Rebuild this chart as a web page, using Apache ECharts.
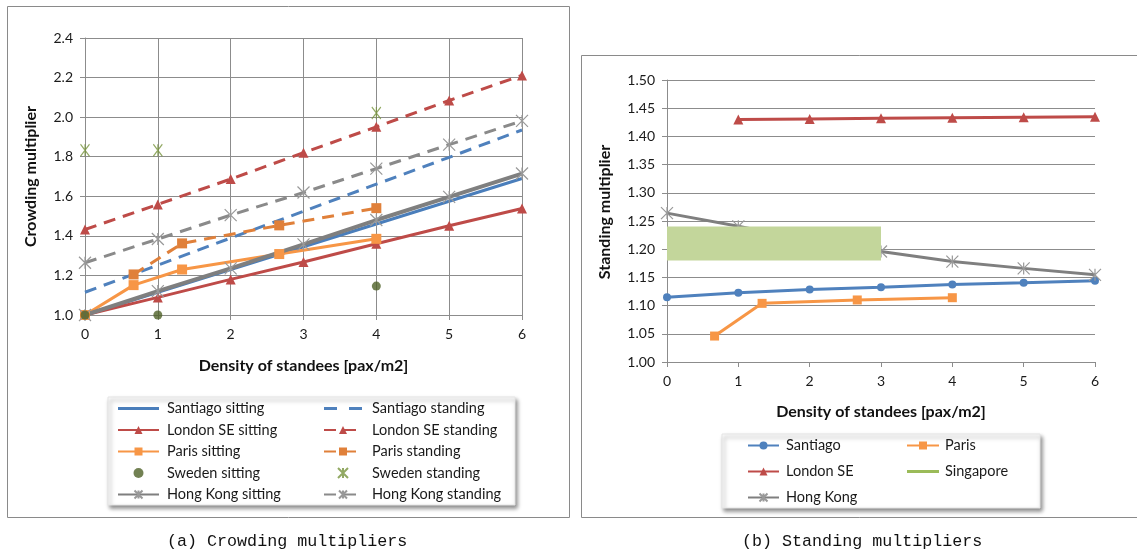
<!DOCTYPE html>
<html><head><meta charset="utf-8">
<script src="https://cdn.jsdelivr.net/npm/echarts@6/dist/echarts.min.js"></script>
<style>html,body{margin:0;padding:0;background:#fff}#c{width:1137px;height:553px}</style>
</head><body><div id="c"></div><script>
// ---- (a) Crowding multipliers ----
const densities = [0, 1, 2, 3, 4, 5, 6];
const parisDensities = [0, 0.667, 1.333, 2.667, 4];
const parisStandDensities = [0.667, 1.333, 2.667, 4];
const swedenDensities = [0, 1, 4];
const santiagoSitting = [1.00, 1.115, 1.23, 1.345, 1.46, 1.575, 1.69];
const santiagoStanding = [1.115, 1.252, 1.389, 1.524, 1.661, 1.797, 1.935];
const londonSitting = [1.00, 1.089, 1.18, 1.268, 1.36, 1.451, 1.538];
const londonStanding = [1.432, 1.559, 1.687, 1.82, 1.951, 2.084, 2.211];
const parisSitting = [1.00, 1.151, 1.23, 1.308, 1.385];
const parisStanding = [1.205, 1.362, 1.453, 1.54];
const swedenSitting = [1.00, 1.00, 1.146];
const swedenStanding = [1.833, 1.833, 2.021];
const hkSitting = [1.00, 1.121, 1.236, 1.357, 1.48, 1.597, 1.715];
const hkStanding = [1.264, 1.384, 1.505, 1.619, 1.74, 1.861, 1.981];

// ---- (b) Standing multipliers ----
const santiagoMult = [1.115, 1.1226, 1.1285, 1.1327, 1.1374, 1.1403, 1.1439];
const londonMultDensities = [1, 2, 3, 4, 5, 6];
const londonMult = [1.430, 1.431, 1.432, 1.433, 1.434, 1.435];
const parisMultDensities = [0.667, 1.333, 2.667, 4];
const parisMult = [1.046, 1.104, 1.11, 1.114];
const hkMult = [1.264, 1.2406, 1.215, 1.196, 1.178, 1.166, 1.1545];
const singaporeDensities = [0, 3];
const singaporeMult = [1.21, 1.21];

const leftTicks = ['1.0','1.2','1.4','1.6','1.8','2.0','2.2','2.4'];

const pair = (xs, ys) => xs.map((x, i) => [x, ys[i]]);
const FONT = 'Lato';
const GRID = '#8c8c8c';
const STAR = 'path://M0,0L10,10M10,0L0,10M5,0L5,10';
const C = {
  blue: '#4a7ebb', blue2: '#4f81bd', red: '#be4b48', orange: '#f79646', orange2: '#e0803a',
  dgreen: '#4f6228', lgreen: '#77933c', gray: '#7f7f7f', gray2: '#8a8a8a', sing: '#c3d69b', singL: '#9bbb59'
};
const DASH = [12, 8];
const SOLID_ICON = 'path://M0,0H41V3H0Z';
const DASH_ICON = 'path://M0,0H13V3H0Z M25,0H38V3H25Z';
const SING_ICON = 'path://M0,0H32V3H0Z';

function lineS(name, data, color, opts) {
  opts = opts || {};
  return Object.assign({
    name, type: 'line', data, xAxisIndex: opts.ai || 0, yAxisIndex: opts.ai || 0,
    color,
    lineStyle: { color, width: opts.w || 3, type: opts.dash ? DASH : 'solid' },
    symbol: opts.symbol || 'none', symbolSize: opts.size || 9, showSymbol: !!opts.symbol,
    itemStyle: { color, borderColor: color, borderWidth: opts.bw || 0 },
    animation: false, silent: true, z: opts.z || 2
  }, opts.extra || {});
}

const chart = echarts.init(document.getElementById('c'), null, { renderer: 'canvas' });

const axisLab = { fontFamily: FONT, fontSize: 14, color: '#1a1a1a' };
const nameSt = { fontFamily: FONT, fontSize: 16, fontWeight: 'bold', color: '#111' };
const legText = (pad) => ({ fontFamily: FONT, fontSize: 14.5, lineHeight: 14, color: '#1a1a1a', padding: [0, 0, 0, pad] });

const option = {
  animation: false,
  grid: [
    { left: 85, top: 38, width: 437, height: 277 },
    { left: 667, top: 80, width: 428, height: 282 }
  ],
  xAxis: [
    { gridIndex: 0, type: 'value', min: 0, max: 6, interval: 1,
      axisLine: { lineStyle: { color: GRID } }, axisTick: { show: true, length: 5, lineStyle: { color: GRID } },
      splitLine: { show: true, lineStyle: { color: GRID } },
      axisLabel: Object.assign({ margin: 12 }, axisLab),
      name: 'Density of standees [pax/m2]', nameLocation: 'middle', nameGap: 43, nameTextStyle: nameSt },
    { gridIndex: 1, type: 'value', min: 0, max: 6, interval: 1,
      axisLine: { lineStyle: { color: GRID } }, axisTick: { show: true, length: 5, lineStyle: { color: GRID } },
      splitLine: { show: false },
      axisLabel: Object.assign({ margin: 12 }, axisLab),
      name: 'Density of standees [pax/m2]', nameLocation: 'middle', nameGap: 42, nameTextStyle: nameSt }
  ],
  yAxis: [
    { gridIndex: 0, type: 'value', min: 1.0, max: 2.4, interval: 0.2,
      axisLine: { show: true, lineStyle: { color: GRID } }, axisTick: { show: true, length: 5, lineStyle: { color: GRID } },
      splitLine: { show: true, lineStyle: { color: GRID } },
      axisLabel: Object.assign({ margin: 12, formatter: v => { const i = Math.round((v - 1.0) / 0.2); return leftTicks[i] || v.toFixed(1); } }, axisLab),
      name: 'Crowding multiplier', nameLocation: 'middle', nameGap: 46, nameTextStyle: nameSt },
    { gridIndex: 1, type: 'value', min: 1.0, max: 1.5, interval: 0.05,
      axisLine: { show: true, lineStyle: { color: GRID } }, axisTick: { show: true, length: 5, lineStyle: { color: GRID } },
      splitLine: { show: true, lineStyle: { color: GRID } },
      axisLabel: Object.assign({ margin: 12, formatter: v => v.toFixed(2) }, axisLab),
      name: 'Standing multiplier', nameLocation: 'middle', nameGap: 54, nameTextStyle: Object.assign({}, nameSt, { padding: [0, 0, 0, 18] }) }
  ],
  legend: [
    { left: 117, top: 401, padding: 0, orient: 'vertical', itemWidth: 41, itemHeight: 10, itemGap: 6.5,
      textStyle: legText(3), selectedMode: false,
      data: [{ name: 'Santiago sitting', icon: SOLID_ICON }, 'London SE sitting', 'Paris sitting', 'Sweden sitting', 'Hong Kong sitting'] },
    { left: 323, top: 401, padding: 0, orient: 'vertical', itemWidth: 38, itemHeight: 10, itemGap: 6.5,
      textStyle: legText(5), selectedMode: false,
      data: [{ name: 'Santiago standing', icon: DASH_ICON }, 'London SE standing', 'Paris standing', 'Sweden standing', 'Hong Kong standing'] },
    { left: 747, top: 438, padding: 0, orient: 'vertical', itemWidth: 31, itemHeight: 10, itemGap: 11,
      textStyle: legText(2), selectedMode: false,
      data: ['Santiago', 'London SE', 'Hong Kong'] },
    { left: 906, top: 438, padding: 0, orient: 'vertical', itemWidth: 32, itemHeight: 10, itemGap: 11,
      textStyle: legText(1), selectedMode: false,
      data: ['Paris', { name: 'Singapore', icon: SING_ICON, itemStyle: { color: C.singL } }] }
  ],
  graphic: [
    { type: 'rect', z: 0, silent: true, shape: { x: 7.5, y: 6.5, width: 562, height: 511 }, style: { fill: 'none', stroke: '#8a8a8a', lineWidth: 1 } },
    { type: 'rect', z: 0, silent: true, shape: { x: 581.5, y: 55.5, width: 560, height: 462 }, style: { fill: 'none', stroke: '#8a8a8a', lineWidth: 1 } },
    { type: 'rect', z: 0, silent: true, shape: { x: 108, y: 397, width: 407, height: 108 },
      style: { fill: '#fff', stroke: '#e4e4e4', lineWidth: 1, shadowBlur: 4, shadowOffsetX: 2, shadowOffsetY: 3, shadowColor: 'rgba(0,0,0,0.45)' } },
    { type: 'rect', z: 0, silent: true, shape: { x: 722, y: 434, width: 318, height: 74 },
      style: { fill: '#fff', stroke: '#e4e4e4', lineWidth: 1, shadowBlur: 4, shadowOffsetX: 2, shadowOffsetY: 3, shadowColor: 'rgba(0,0,0,0.45)' } },
    { type: 'text', silent: true, left: 167, top: 533, style: { text: '(a) Crowding multipliers', font: '16.7px "Liberation Mono"', fill: '#111' } },
    { type: 'text', silent: true, left: 742, top: 533, style: { text: '(b) Standing multipliers', font: '16.7px "Liberation Mono"', fill: '#111' } }
  ],
  series: [
    lineS('Santiago sitting', pair(densities, santiagoSitting), C.blue),
    lineS('Santiago standing', pair(densities, santiagoStanding), C.blue2, { dash: true }),
    lineS('London SE sitting', pair(densities, londonSitting), C.red, { symbol: 'triangle', size: 10 }),
    lineS('London SE standing', pair(densities, londonStanding), C.red, { symbol: 'triangle', size: 10, dash: true }),
    lineS('Paris sitting', pair(parisDensities, parisSitting), C.orange, { symbol: 'rect', size: 10 }),
    lineS('Paris standing', pair(parisStandDensities, parisStanding), C.orange2, { symbol: 'rect', size: 10, dash: true }),
    { name: 'Sweden sitting', type: 'scatter', xAxisIndex: 0, yAxisIndex: 0, data: pair(swedenDensities, swedenSitting),
      symbol: 'circle', symbolSize: 9, color: C.dgreen, itemStyle: { color: C.dgreen }, silent: true, z: 3 },
    { name: 'Sweden standing', type: 'scatter', xAxisIndex: 0, yAxisIndex: 0, data: pair(swedenDensities, swedenStanding),
      symbol: STAR, symbolSize: [9, 12], color: C.lgreen, itemStyle: { color: 'rgba(0,0,0,0)', borderColor: C.lgreen, borderWidth: 1.3 }, silent: true, z: 3 },
    lineS('Hong Kong sitting', pair(densities, hkSitting), C.gray, { symbol: STAR, size: 12, w: 4, extra: { itemStyle: { color: 'rgba(0,0,0,0)', borderColor: '#999', borderWidth: 1.2 } } }),
    lineS('Hong Kong standing', pair(densities, hkStanding), C.gray2, { symbol: STAR, size: 12, dash: true, extra: { itemStyle: { color: 'rgba(0,0,0,0)', borderColor: '#999', borderWidth: 1.2 } } }),

    lineS('Santiago', pair(densities, santiagoMult), C.blue2, { ai: 1, symbol: 'circle', size: 8 }),
    lineS('London SE', pair(londonMultDensities, londonMult), C.red, { ai: 1, symbol: 'triangle', size: 10 }),
    lineS('Paris', pair(parisMultDensities, parisMult), C.orange, { ai: 1, symbol: 'rect', size: 9 }),
    lineS('Hong Kong', pair(densities, hkMult), C.gray, { ai: 1, symbol: STAR, size: 12, extra: { itemStyle: { color: 'rgba(0,0,0,0)', borderColor: '#999', borderWidth: 1.2 } } }),
    lineS('Singapore', pair(singaporeDensities, singaporeMult), C.sing, { ai: 1, w: 34, z: 5 })
  ]
};
chart.setOption(option);
</script></body></html>
